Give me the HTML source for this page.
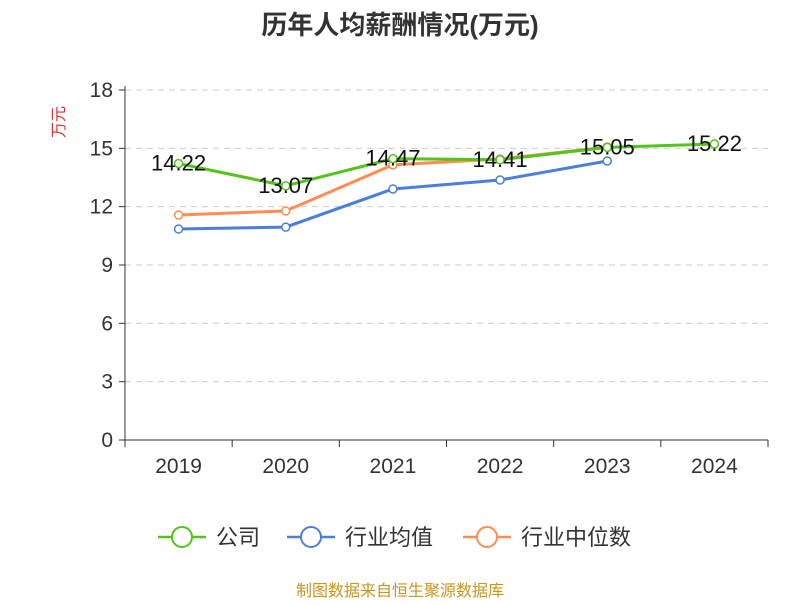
<!DOCTYPE html>
<html><head><meta charset="utf-8">
<style>
body{margin:0;background:#fff;width:800px;height:600px;overflow:hidden;font-family:"Liberation Sans","Noto Sans CJK SC",sans-serif;}
</style></head>
<body>
<svg id="chart" width="800" height="600" xmlns="http://www.w3.org/2000/svg" font-family="Liberation Sans, Noto Sans CJK SC, sans-serif">
<text x="400" y="34" text-anchor="middle" font-size="26" font-weight="bold" fill="#333">历年人均薪酬情况(万元)</text>
<text x="64" y="122" text-anchor="middle" font-size="16" fill="#e03030" transform="rotate(-90 64 122)">万元</text>
<g id="grid"></g><g id="axes"></g><g id="series"></g><g id="labels"></g>
<g font-size="22" fill="#333">
<g><line x1="158" y1="537" x2="206" y2="537" stroke="#52c41a" stroke-width="2.5"/><circle cx="182" cy="537" r="10" fill="#fff" stroke="#52c41a" stroke-width="2"/><text x="216" y="545">公司</text></g>
<g><line x1="287" y1="537" x2="335" y2="537" stroke="#4a7fdc" stroke-width="2.5"/><circle cx="311" cy="537" r="10" fill="#fff" stroke="#4a7fdc" stroke-width="2"/><text x="345" y="545">行业均值</text></g>
<g><line x1="463" y1="537" x2="511" y2="537" stroke="#ff8c50" stroke-width="2.5"/><circle cx="487" cy="537" r="10" fill="#fff" stroke="#ff8c50" stroke-width="2"/><text x="521" y="545">行业中位数</text></g>
</g>
<text x="400" y="596" text-anchor="middle" font-size="16" fill="#c8961e">制图数据来自恒生聚源数据库</text>
</svg>
<script>
const categories=["2019","2020","2021","2022","2023","2024"];
const yTicks=[0,3,6,9,12,15,18];
const companyValues=[14.22,13.07,14.47,14.41,15.05,15.22];
const avgValues=[10.85,10.95,12.91,13.37,14.35,null];
const medianValues=[11.57,11.78,14.15,14.45,15.07,null];
const NS="http://www.w3.org/2000/svg";
const x0=125,x1=768,yBase=440,yTop=90,yMax=18;
const bw=(x1-x0)/categories.length;
function xs(i){return x0+bw*(i+0.5);}
function ys(v){return yBase-(v/yMax)*(yBase-yTop);}
function mk(tag,attrs,parent){const e=document.createElementNS(NS,tag);for(const k in attrs)e.setAttribute(k,attrs[k]);parent.appendChild(e);return e;}
const grid=document.getElementById('grid'),axes=document.getElementById('axes'),series=document.getElementById('series'),labels=document.getElementById('labels');
yTicks.forEach(t=>{
 const y=ys(t);
 if(t>0){const l=mk('line',{x1:x0,x2:x1,y1:y,y2:y,stroke:'#ccc','stroke-dasharray':'6,5'},grid);
 
 }
 const tk=mk('line',{x1:x0-6,x2:x0,y1:y,y2:y,stroke:'#333'},axes);
 
 
 const tx=mk('text',{x:x0-12,y:y+7,'text-anchor':'end','font-size':21,fill:'#333'},axes);
 tx.textContent=t;
 
 
});
const ya=mk('line',{x1:x0,x2:x0,y1:yTop-4,y2:yBase,stroke:'#333'},axes);


const xa=mk('line',{x1:x0,x2:x1,y1:yBase,y2:yBase,stroke:'#333'},axes);


for(let i=0;i<=categories.length;i++){
 const x=x0+bw*i;
 const tk=mk('line',{x1:x,x2:x,y1:yBase,y2:yBase+7,stroke:'#333'},axes);
 
 
}
categories.forEach((c,i)=>{
 const tx=mk('text',{x:xs(i),y:473,'text-anchor':'middle','font-size':21,fill:'#333'},axes);
 tx.textContent=c;
 
 
});
function drawSeries(vals,color,name){
 const pts=[];vals.forEach((v,i)=>{if(v!=null)pts.push([xs(i),ys(v)]);});
 const p=mk('polyline',{points:pts.map(p=>p.join(',')).join(' '),fill:'none',stroke:color,'stroke-width':3},series);
 
 
 pts.forEach(q=>{
  const c=mk('circle',{cx:q[0],cy:q[1],r:4,fill:'#fff',stroke:color,'stroke-width':1.5},series);
  
  
 });
}
drawSeries(avgValues,'#4a7fdc','industry-avg');
drawSeries(medianValues,'#ff8c50','industry-median');
drawSeries(companyValues,'#52c41a','company');
companyValues.forEach((v,i)=>{
 const t=mk('text',{x:xs(i),y:ys(v)+7,'text-anchor':'middle','font-size':22,fill:'#111'},labels);
 t.textContent=v.toFixed(2);
 
 
});
</script>
</body></html>
